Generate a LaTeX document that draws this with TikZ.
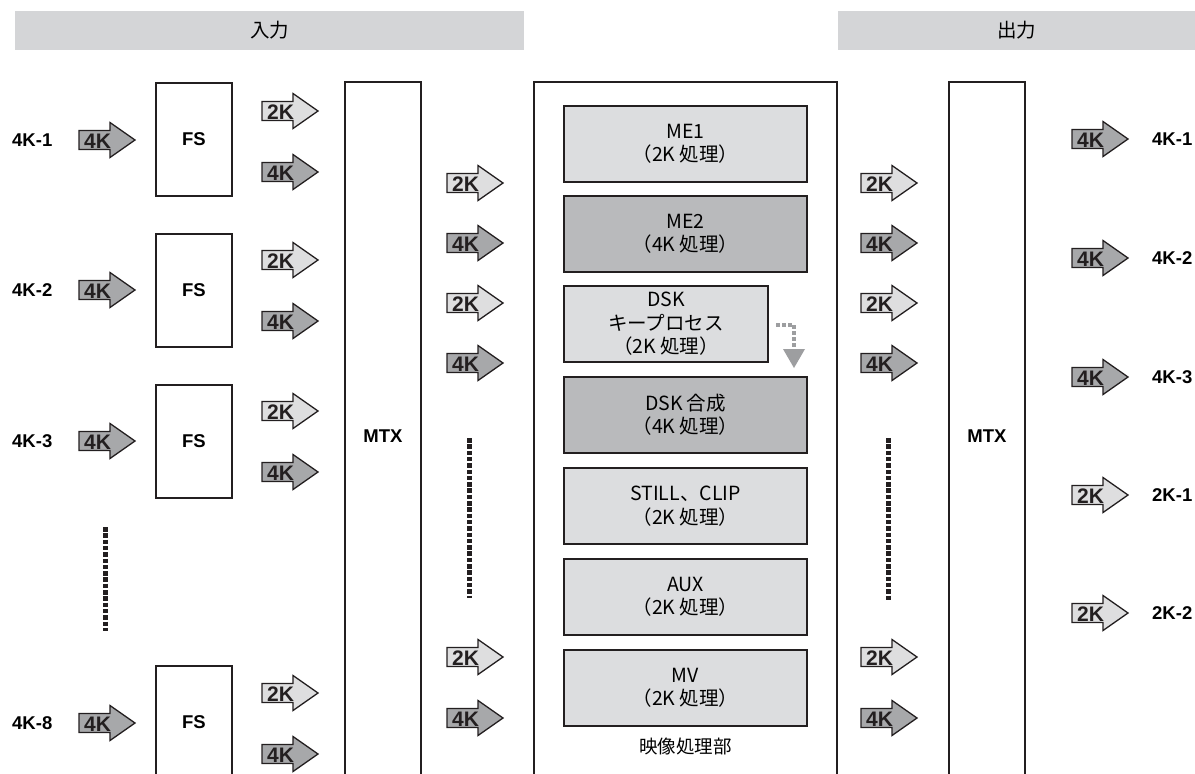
\documentclass[tikz,border=0pt]{standalone}
\usepackage{fontspec}
\setmainfont{Liberation Sans}
\newfontfamily\jpf{Noto Sans CJK JP}
\definecolor{lc}{HTML}{231F20}
\definecolor{hdr}{HTML}{D4D5D7}
\definecolor{boxl}{HTML}{DCDDDF}
\definecolor{boxd}{HTML}{B9BABC}
\definecolor{arrl}{HTML}{DEDEDF}
\definecolor{arrd}{HTML}{A7A8AA}
\definecolor{dskg}{HTML}{9D9EA0}
\tikzset{
  hdrbar/.style={fill=hdr, draw=none, inner sep=0pt, font={\jpf\fontsize{19.5}{22}\selectfont}},
  outbox/.style={draw=lc, line width=2pt, fill=white, inner sep=0pt},
  fsbox/.style={outbox, minimum width=76pt, minimum height=113pt, font={\bfseries\fontsize{18.5}{20}\selectfont}},
  mtxbox/.style={outbox, minimum width=76pt, minimum height=708pt, font={\bfseries\fontsize{18.5}{20}\selectfont}},
  procbox/.style={draw=lc, line width=2pt, fill=white, inner sep=0pt, minimum width=303pt, minimum height=708pt},
  inbox/.style={draw=lc, line width=1.4pt, inner sep=0pt, minimum height=76pt, align=center, font={\jpf\fontsize{19.5}{23.5}\selectfont}},
  lightbox/.style={inbox, fill=boxl, minimum width=243pt},
  darkbox/.style={inbox, fill=boxd, minimum width=243pt},
  sigtext/.style={font={\bfseries\fontsize{18.5}{20}\selectfont}, inner sep=0pt},
  arrlbl/.style={font={\bfseries\fontsize{21}{21}\selectfont}, inner sep=0pt, text=lc},
  dotline/.style={draw=lc, line width=5pt, dash pattern=on 4.5pt off 1.8pt},
  dskline/.style={draw=dskg, line width=4pt, dash pattern=on 3.5pt off 2.5pt},
}
\newcommand\sigarr[5]{%
  \filldraw[fill=#5, draw=lc, line width=1.3pt, line join=miter]
    ({#2},{#3-9.5}) -- ({#2+31},{#3-9.5}) -- ({#2+31},{#3-17.5}) -- ({#2+56},{#3})
    -- ({#2+31},{#3+17.5}) -- ({#2+31},{#3+9.5}) -- ({#2},{#3+9.5}) -- cycle;
  \node[arrlbl] (#1) at ({#2+18.5},{#3+0.8}) {#4};
}
\begin{document}
\begin{tikzpicture}[x=1pt,y=-1pt]
\useasboundingbox (0,0) rectangle (1195,774);
\clip (0,0) rectangle (1195,774);
% headers
\node[hdrbar, minimum width=509pt, minimum height=39pt] (hin) at (269.5,30.5) {入力};
\node[hdrbar, minimum width=357pt, minimum height=39pt] (hout) at (1016.5,30.5) {出力};
% input labels and arrows
\foreach \n/\y/\t in {i1/140/4K-1, i2/290/4K-2, i3/441/4K-3, i8/723/4K-8}{
  \node[sigtext, anchor=west] (\n lab) at (12,\y) {\t};
  \sigarr{\n arr}{79}{\y}{4K}{arrd}
}
% FS boxes
\node[fsbox] (fs1) at (194,139.5) {FS};
\node[fsbox] (fs2) at (194,290) {FS};
\node[fsbox] (fs3) at (194,441.5) {FS};
\node[fsbox] (fs8) at (194,722) {FS};
% FS output arrows
\foreach \n/\y in {1/141, 2/290, 3/441, 8/723}{
  \sigarr{f\n a}{262}{\y-30}{2K}{arrl}
  \sigarr{f\n b}{262}{\y+31}{4K}{arrd}
}
% left dots
\coordinate (ld1) at (105,527);
\coordinate (ld2) at (105,631);
\draw[dotline] (ld1) -- (ld2);
% MTX left
\node[mtxbox] (mtxl) at (383,436) {MTX};
% middle arrows
\foreach \n/\y/\t/\f in {m1/183/2K/arrl, m2/243/4K/arrd, m3/303/2K/arrl, m4/363/4K/arrd, m5/657/2K/arrl, m6/718/4K/arrd}{
  \sigarr{\n}{447}{\y}{\t}{\f}
}
\coordinate (md1) at (469,438);
\coordinate (md2) at (469,598);
\draw[dotline] (md1) -- (md2);
% processing block
\node[procbox] (proc) at (685.5,436) {};
\node[lightbox] (me1) at (685.5,144) {ME1\\（2K 処理）};
\node[darkbox] (me2) at (685.5,234) {ME2\\（4K 処理）};
\node[inbox, fill=boxl, minimum width=204pt] (dskk) at (666,324) {DSK\\キープロセス\\（2K 処理）};
\node[darkbox] (dskc) at (685.5,415) {DSK 合成\\（4K 処理）};
\node[lightbox] (still) at (685.5,506) {STILL、CLIP\\（2K 処理）};
\node[lightbox] (aux) at (685.5,597) {AUX\\（2K 処理）};
\node[lightbox] (mv) at (685.5,688) {MV\\（2K 処理）};
\node[font={\jpf\fontsize{18.5}{20}\selectfont}, inner sep=0pt] (proclab) at (685.5,746) {映像処理部};
% DSK dotted arrow
\coordinate (dk1) at (776,325);
\coordinate (dk2) at (794,325);
\coordinate (dk3) at (794,350);
\draw[dskline] (dk1) -- (dk2) -- (dk3);
\fill[dskg] (783,349) -- (805,349) -- (794,368) -- cycle;
% right middle arrows
\foreach \n/\y/\t/\f in {r1/183/2K/arrl, r2/243/4K/arrd, r3/303/2K/arrl, r4/363/4K/arrd, r5/657/2K/arrl, r6/718/4K/arrd}{
  \sigarr{\n}{861}{\y}{\t}{\f}
}
\coordinate (rd1) at (888,438);
\coordinate (rd2) at (888,600);
\draw[dotline] (rd1) -- (rd2);
% MTX right
\node[mtxbox] (mtxr) at (987,436) {MTX};
% outputs
\foreach \n/\y/\t/\f/\l in {o1/139/4K/arrd/4K-1, o2/258/4K/arrd/4K-2, o3/377/4K/arrd/4K-3, o4/495/2K/arrl/2K-1, o5/613/2K/arrl/2K-2}{
  \sigarr{\n arr}{1072}{\y}{\t}{\f}
  \node[sigtext, anchor=west] (\n lab) at (1152,\y) {\l};
}
\end{tikzpicture}
\end{document}
